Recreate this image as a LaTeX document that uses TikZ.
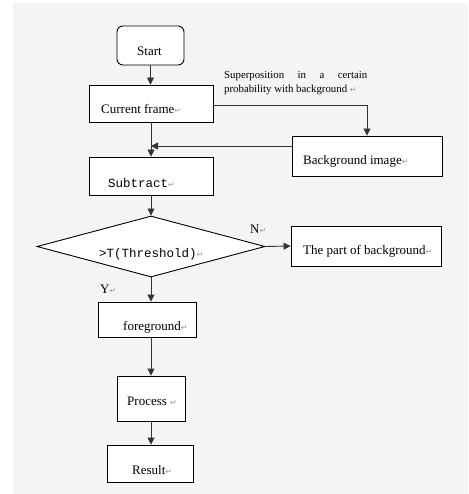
\documentclass[tikz,border=0pt]{standalone}
\usepackage{fontspec}
\setmainfont{Liberation Serif}
\setmonofont{Liberation Mono}
\newfontfamily\dejavu{DejaVu Sans}
\usetikzlibrary{arrows.meta,shapes.geometric}
\definecolor{pagebg}{HTML}{F4F4F4}
\definecolor{linecol}{HTML}{333333}
\definecolor{markcol}{HTML}{9A9A9A}
\newcommand\retmark{{\color{markcol}\fontsize{8}{8}\dejavu ↵}}
\tikzset{
  box/.style={draw=black, fill=white, line width=0.9pt, inner sep=0pt},
  txt/.style={anchor=base west, inner sep=0pt, font=\fontsize{13}{15}\selectfont},
  mono/.style={anchor=base west, inner sep=0pt, font=\fontsize{12.5}{15}\ttfamily},
  small/.style={anchor=base west, inner sep=0pt, font=\fontsize{10.8}{13}\selectfont},
  arr/.style={draw=linecol, line width=0.9pt, -{Triangle[length=7pt,width=7pt]}},
  ln/.style={draw=linecol, line width=0.9pt}
}
\begin{document}
\begin{tikzpicture}[x=1pt,y=-1pt]
\useasboundingbox (0,0) rectangle (468,494);
\fill[pagebg] (13,3) rectangle (468,494);

% boxes
\node[box, rounded corners=6pt, minimum width=67pt, minimum height=39pt] (start) at (150.5,45.5) {};
\node[box, minimum width=124pt, minimum height=37pt] (cur) at (151,103.5) {};
\node[box, minimum width=150pt, minimum height=40pt] (bg) at (367,156) {};
\node[box, minimum width=124pt, minimum height=38pt] (sub) at (151,176) {};
\node[box, diamond, minimum width=228pt, minimum height=61pt] (dec) at (151,246.5) {};
\node[box, minimum width=150pt, minimum height=40pt] (part) at (366,246) {};
\node[box, minimum width=98pt, minimum height=35pt] (fg) at (147,319.5) {};
\node[box, minimum width=68pt, minimum height=45pt] (proc) at (151,398.5) {};
\node[box, minimum width=86pt, minimum height=37pt] (res) at (150,463.5) {};

% texts
\node[txt] (tstart) at (137,56) {Start};
\node[txt] (tcur) at (101,114) {Current frame\retmark};
\node[txt] (tbg) at (303,165) {Background image\retmark};
\node[mono] (tsub) at (108,187) {Subtract\retmark};
\node[mono] (tdec) at (99,257) {>T(Threshold)\retmark};
\node[txt] (tpart) at (303,254) {The part of background\retmark};
\node[txt] (tfg) at (123,330) {foreground\retmark};
\node[txt] (tproc) at (127,405) {Process \retmark};
\node[txt] (tres) at (132,474) {Result\retmark};
\node[txt] (tn) at (250,233) {N\retmark};
\node[txt] (ty) at (100,293) {Y\retmark};
\node[small] (tsup1) at (224,79) {\makebox[143pt][s]{Superposition in a certain}};
\node[small] (tsup2) at (224,93) {probability with background \retmark};

% connectors
\coordinate (j) at (151,146);
\draw[arr] (start.south) -- (start.south |- cur.north);
\draw[arr] (cur.east |- 0,105) -| (bg.north);
\draw[arr] (cur.south -| j) -- (j |- sub.north);
\draw[arr] (bg.west |- j) -- (j);
\draw[arr] (sub.south -| dec.north) -- (dec.north);
\draw[arr] (dec.east) -- (part.west);
\draw[arr] (dec.south) -- (dec.south |- fg.north);
\draw[arr] (fg.south -| proc.north) -- (proc.north);
\draw[arr] (proc.south) -- (proc.south |- res.north);
\end{tikzpicture}
\end{document}
